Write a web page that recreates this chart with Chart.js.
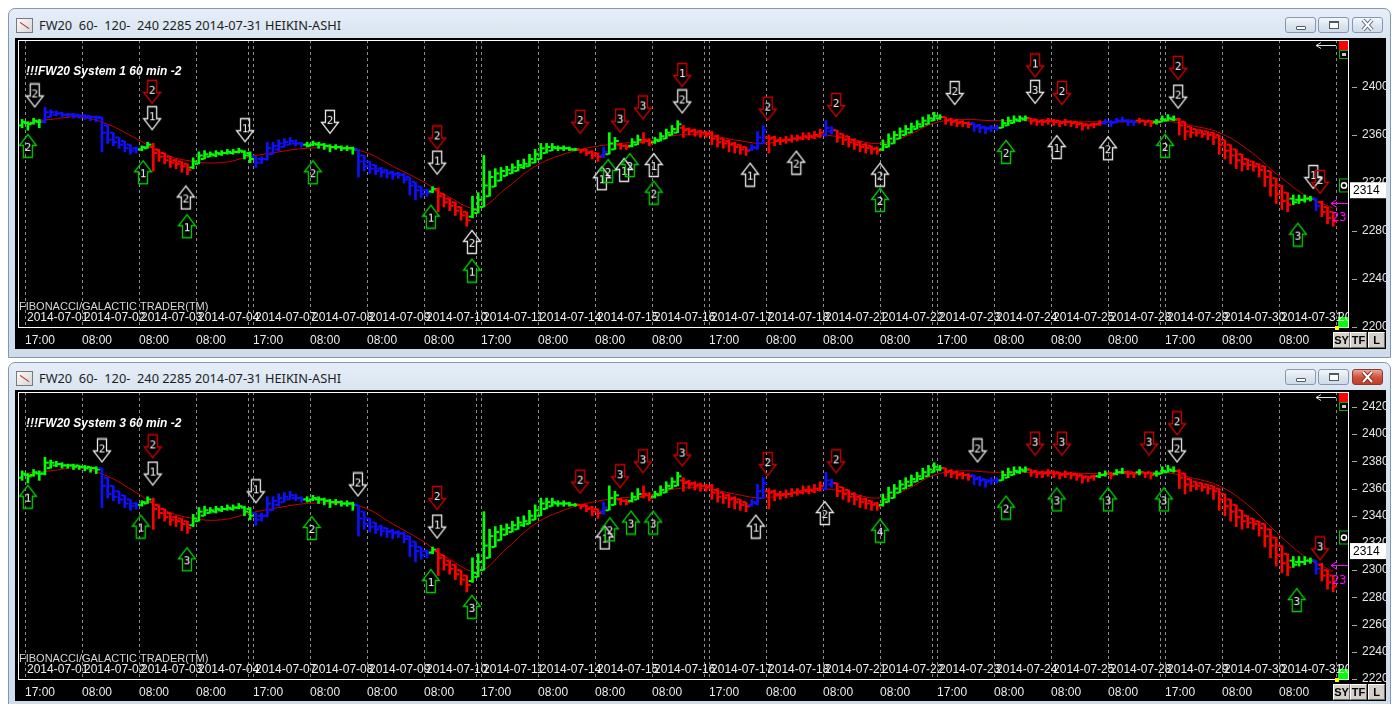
<!DOCTYPE html>
<html><head><meta charset="utf-8"><title>FW20 Heikin-Ashi</title>
<script src="https://cdn.jsdelivr.net/npm/chart.js@4.4.1/dist/chart.umd.min.js"></script>
<style>
*{box-sizing:border-box}
html,body{margin:0;padding:0;width:1398px;height:704px;overflow:hidden;background:#ffffff}
.win{position:absolute;left:8px;width:1383px;border:1px solid #8497b0;border-radius:7px 7px 0 0;background:linear-gradient(#e6eef8 0px,#d8e4f1 30px,#cfdcec 100%)}
.ttl{position:absolute;left:39px;font:12.8px "Noto Sans",sans-serif;white-space:pre;color:#1e1e1e;line-height:16px}
.ico{position:absolute;left:16px;width:17px;height:15px;border:1px solid #7a7a7a;background:linear-gradient(135deg,#fbfbfb,#d5d5d5)}
.ico:after{content:"";position:absolute;left:2px;top:6px;width:11px;height:1px;background:#d02020;transform:rotate(35deg)}
.blk{position:absolute;left:15px;width:1371px;height:311px;background:#000}
.wb{position:absolute;width:31px;height:16px;border:1px solid #8797ad;border-radius:3px;background:linear-gradient(#f4f7fb,#dde6f0 50%,#cfdbe9)}
.wb.red{background:linear-gradient(#eaa796,#d0533c 50%,#c13d28);border-color:#8a3a2e}
.mn{position:absolute;left:10px;top:8px;width:10px;height:4px;border:1px solid #4d5a6a;background:#fff;border-radius:1px}
.mx{position:absolute;left:10px;top:3px;width:10px;height:8px;border:1px solid #4d5a6a;border-top-width:2px;background:#fff}
.sb{position:absolute;height:16px;width:17px;background:#d4d0c8;border:1px solid;border-color:#fff #6f6f6f #6f6f6f #fff;font:bold 11px "Liberation Sans",Arial,sans-serif;color:#000;text-align:center;line-height:14px}
canvas{position:absolute;left:0;top:0}
</style></head>
<body>
<div class="win" style="top:8px;height:350px"></div>
<div class="ico" style="top:18px"></div>
<div class="ttl" style="top:17px">FW20  60-  120-  240 2285 2014-07-31 HEIKIN-ASHI</div>
<div class="wb" style="left:1285px;top:17px"><div class="mn"></div></div>
<div class="wb" style="left:1318px;top:17px"><div class="mx"></div></div>
<div class="wb" style="left:1352px;top:17px"><svg width="29" height="14" style="position:absolute;left:0;top:0"><path d="M10 2 L19 12 M19 2 L10 12" stroke="#56657a" stroke-width="4"/><path d="M10 2 L19 12 M19 2 L10 12" stroke="#fff" stroke-width="2"/></svg></div>
<div class="blk" style="top:38px"><canvas id="c1" width="1371" height="311"></canvas></div>
<div class="sb" style="left:1333px;top:332px">SY</div><div class="sb" style="left:1350px;top:332px">TF</div><div class="sb" style="left:1368px;top:332px">L</div>

<div class="win" style="top:362px;height:350px"></div>
<div class="ico" style="top:371px"></div>
<div class="ttl" style="top:370px">FW20  60-  120-  240 2285 2014-07-31 HEIKIN-ASHI</div>
<div class="wb" style="left:1285px;top:369px"><div class="mn"></div></div>
<div class="wb" style="left:1318px;top:369px"><div class="mx"></div></div>
<div class="wb red" style="left:1352px;top:369px"><svg width="29" height="14" style="position:absolute;left:0;top:0"><path d="M10 2 L19 12 M19 2 L10 12" stroke="#7a2a1e" stroke-width="4"/><path d="M10 2 L19 12 M19 2 L10 12" stroke="#fff" stroke-width="2"/></svg></div>
<div class="blk" style="top:390px"><canvas id="c2" width="1371" height="311"></canvas></div>
<div class="sb" style="left:1333px;top:684px">SY</div><div class="sb" style="left:1350px;top:684px">TF</div><div class="sb" style="left:1368px;top:684px">L</div>

<script>
// ---------- price data (Heikin-Ashi, 60 min bars) ----------
const opens = [2368,2370,2370,2371,2371,2375,2377,2378,2377,2377,
2377,2376,2376,2375,2375,2368,2362,2358,2355,2352,
2349,2348,2349,2350,2348,2345,2342,2339,2338,2336,
2333,2336,2340,2342,2343,2344,2345,2345,2346,2346,
2345,2342,2340,2340,2344,2348,2350,2352,2353,2353,
2352,2352,2352,2352,2351,2350,2350,2349,2349,2348,
2343,2338,2335,2332,2331,2329,2328,2327,2325,2321,
2317,2314,2313,2314,2311,2307,2304,2300,2296,2292,
2295,2300,2309,2317,2322,2326,2328,2330,2333,2334,
2337,2340,2345,2347,2349,2349,2349,2348,2348,2348,
2346,2345,2343,2344,2348,2352,2351,2351,2352,2354,
2355,2354,2355,2357,2360,2362,2366,2365,2364,2363,
2362,2362,2359,2357,2355,2353,2352,2350,2348,2349,
2353,2358,2358,2356,2356,2356,2357,2357,2358,2358,
2359,2360,2363,2364,2361,2359,2356,2354,2352,2351,
2349,2348,2350,2353,2357,2360,2362,2365,2367,2369,
2372,2374,2375,2373,2372,2371,2370,2370,2368,2367,
2366,2366,2366,2368,2370,2372,2373,2374,2373,2372,
2372,2372,2372,2371,2371,2371,2370,2369,2369,2369,
2370,2371,2371,2372,2372,2372,2372,2372,2372,2371,
2371,2372,2373,2373,2371,2367,2365,2364,2363,2362,
2360,2356,2352,2348,2344,2340,2338,2336,2334,2330,
2324,2318,2312,2307,2306,2306,2307,2307,2304,2300,2296];
const highs = [2373,2371,2374,2373,2383,2381,2380,2379,2378,2378,
2377,2377,2376,2376,2375,2368,2362,2358,2355,2352,
2350,2351,2354,2353,2348,2345,2342,2340,2338,2336,
2341,2346,2347,2346,2347,2347,2348,2348,2349,2347,
2346,2342,2342,2354,2354,2356,2357,2358,2356,2354,
2354,2355,2354,2353,2352,2352,2351,2351,2350,2348,
2343,2338,2335,2333,2331,2330,2329,2328,2325,2321,
2317,2315,2317,2316,2311,2307,2304,2300,2296,2309,
2312,2343,2330,2332,2333,2334,2336,2339,2340,2344,
2348,2353,2353,2353,2351,2351,2350,2349,2348,2348,
2347,2345,2350,2362,2358,2353,2352,2357,2360,2362,
2357,2358,2362,2365,2368,2372,2368,2366,2365,2364,
2363,2363,2360,2357,2356,2354,2352,2350,2352,2363,
2368,2360,2359,2358,2359,2360,2360,2362,2362,2363,
2365,2372,2367,2364,2361,2359,2357,2355,2353,2351,
2350,2356,2361,2363,2366,2368,2370,2372,2375,2377,
2379,2377,2375,2374,2373,2372,2371,2370,2369,2367,
2368,2368,2373,2375,2376,2376,2376,2374,2373,2373,
2374,2373,2372,2373,2372,2371,2370,2369,2370,2372,
2373,2372,2374,2375,2373,2372,2374,2372,2372,2373,
2376,2377,2376,2374,2371,2367,2365,2364,2363,2362,
2360,2356,2352,2348,2344,2340,2338,2336,2334,2330,
2324,2318,2312,2310,2310,2310,2309,2307,2305,2300,2296];
const lows = [2366,2364,2369,2366,2370,2375,2376,2375,2375,2374,
2374,2373,2372,2371,2346,2353,2351,2349,2346,2344,
2345,2347,2349,2330,2338,2336,2333,2332,2329,2327,
2332,2336,2340,2342,2342,2343,2344,2344,2345,2340,
2337,2333,2336,2339,2344,2347,2350,2352,2351,2350,
2350,2351,2349,2348,2346,2348,2347,2347,2344,2325,
2330,2328,2327,2325,2324,2323,2324,2320,2310,2306,
2308,2309,2312,2296,2300,2297,2293,2289,2284,2291,
2295,2300,2309,2317,2322,2326,2328,2330,2332,2334,
2337,2340,2345,2347,2347,2347,2347,2347,2345,2343,
2340,2338,2341,2344,2348,2348,2348,2350,2352,2353,
2351,2353,2355,2357,2360,2362,2358,2360,2359,2358,
2358,2352,2350,2349,2346,2345,2344,2343,2347,2348,
2353,2345,2351,2352,2353,2354,2355,2356,2356,2357,
2358,2359,2361,2354,2352,2350,2348,2346,2345,2344,
2344,2347,2350,2353,2357,2360,2362,2365,2367,2369,
2372,2373,2369,2368,2367,2367,2366,2363,2362,2361,
2363,2364,2366,2368,2370,2371,2372,2369,2368,2368,
2369,2368,2367,2368,2367,2366,2364,2365,2366,2368,
2369,2367,2370,2371,2368,2368,2370,2368,2367,2369,
2371,2372,2372,2360,2356,2358,2359,2358,2356,2352,
2344,2340,2336,2332,2330,2331,2330,2325,2317,2309,
2303,2298,2296,2302,2303,2304,2305,2297,2292,2286,2284];
const closes = [2371,2369,2372,2371,2379,2379,2378,2377,2377,2376,
2376,2375,2375,2374,2362,2356,2354,2352,2349,2347,
2348,2350,2352,2345,2342,2339,2337,2336,2334,2331,
2338,2343,2344,2344,2345,2345,2346,2346,2347,2343,
2340,2337,2340,2349,2351,2353,2354,2355,2353,2352,
2351,2353,2352,2351,2350,2350,2349,2349,2348,2338,
2334,2332,2330,2329,2328,2327,2327,2323,2318,2314,
2311,2312,2315,2309,2304,2301,2297,2293,2289,2298,
2306,2318,2325,2328,2330,2331,2333,2335,2336,2340,
2344,2349,2350,2350,2349,2349,2348,2348,2347,2345,
2343,2342,2346,2353,2355,2351,2350,2354,2356,2356,
2353,2356,2359,2362,2365,2369,2364,2363,2362,2362,
2361,2357,2354,2353,2352,2350,2348,2347,2350,2358,
2364,2357,2355,2355,2356,2357,2358,2359,2359,2360,
2362,2366,2364,2358,2356,2354,2352,2350,2349,2348,
2347,2352,2357,2360,2363,2365,2367,2369,2372,2374,
2376,2375,2372,2371,2370,2370,2369,2367,2366,2365,
2366,2366,2370,2372,2373,2374,2374,2372,2371,2371,
2372,2371,2370,2371,2370,2369,2368,2368,2369,2370,
2371,2370,2372,2372,2371,2371,2372,2371,2370,2371,
2373,2374,2373,2368,2363,2362,2362,2361,2360,2358,
2352,2347,2343,2339,2336,2335,2334,2331,2325,2318,
2311,2305,2302,2304,2306,2307,2307,2301,2296,2291,2288];
// bar colour state per bar: g = green, b = blue, r = red
const colorsBottom = ["gggggggggggggg","bbbbbbb","gg","rrrrrrr","ggggggggggg","bbbbbbbbb","ggggggggg",
 "bbbbbbbbbbbbb","g","rrrrrr","ggggggggggggggggggg","rrrr","b","gg","rr","gg","rr","ggggg",
 "rrrrrrrrrrrr","bbb","rrrrrrrrrr","bb","rrrrrrrr","ggggggggggg","rrrrr","bbbbb","ggggg",
 "rrrrrrrrrrrr","gg","r","gg","rr","g","rr","gggg","rrrrrrrrrrrrrrrrrrrr","gggg","b","rrr"].join("");
const colorsTop = ["gggg","bbbbbbbbbb","bbbbbbb","gg","rrrrrrr","ggggggggggg","bbbbbbbbb","ggggggggg",
 "bbbbbbbbbbbbb","g","rrrrrr","ggggggggggggggggggg","rrrr","b","gg","rr","gg","rr","ggggg",
 "rrrrrrrrrrrr","bbb","rrrrrrrrrr","bb","rrrrrrrr","ggggggggggg","rrrrr","bbbbb","ggggg",
 "rrrrrrrrrrrr","r","bbbbbb","r","rr","gggg","rrrrrrrrrrrrrrrrrrrr","gggg","b","rrr"].join("");
// moving average, sampled every 5 bars
const maStep = 5;
const maVals = [2371,2373,2375,2369,2357,2344,2338,2337,2342,2346,2349,2349,2346,2334,2322,2308,2299,2316,
 2334,2344,2350,2353,2355,2360,2360,2356,2353,2357,2360,2357,2353,2359,2370,2373,2372,2372,2371,2371,
 2371,2371,2372,2368,2362,2348,2328,2310,2299];
// ---------- axis data ----------
const dayGrid = [0.5,10.5,20.5,30.5,40.5,50.5,60.5,70.5,80.5,90.5,100.5,110.5,120.5,130.5,140.5,150.5,
 160.5,170.5,180.5,190.5,200.5,210.5,220.5,230.5];
const weekendGrid = [39.62,79.62,119.62,159.62,199.62];
const timeLabels = ["17:00","08:00","08:00","08:00","17:00","08:00","08:00","08:00","17:00","08:00","08:00","08:00",
 "17:00","08:00","08:00","08:00","17:00","08:00","08:00","08:00","17:00","08:00","08:00",""];
const dateLabels = ["2014-07-01","2014-07-02","2014-07-03","2014-07-04","2014-07-07","2014-07-08","2014-07-09",
 "2014-07-10","2014-07-11","2014-07-14","2014-07-15","2014-07-16","2014-07-17","2014-07-18","2014-07-21",
 "2014-07-22","2014-07-23","2014-07-24","2014-07-25","2014-07-28","2014-07-29","2014-07-30","2014-07-31","2014-08-01"];
const yTicksTop = [2200,2240,2280,2320,2360,2400];
const yTicksBottom = [2220,2240,2260,2280,2300,2320,2340,2360,2380,2400,2420];
// ---------- signal arrows ----------
const arrTopIdx = [2.2,1.0,22.8,22.8,21.2,28.7,28.9,39.1,54.0,51.0,72.8,72.8,71.7,78.9,78.9,97.9,104.9,108.9,115.8,
 115.8,101.7,102.8,105.6,106.6,110.8,110.8,130.8,127.7,135.8,142.8,150.5,150.5,163.6,172.6,177.7,177.7,182.4,181.5,
 190.5,202.8,202.8,200.5,223.8,226.5,227.7];
const arrTopPrice = [2393,2351,2396,2374,2329,2308,2284,2364,2371,2329,2358,2337,2292,2271,2247,2371,2372,2383,2410,
 2388,2324,2330,2331,2335,2335,2312,2382,2327,2337,2385,2327,2306,2395,2346,2418,2396,2395,2350,2349,2416,2392,2351,
 2277,2325,2321];
const arrTopKind = ["WD","GU","RD","WD","GU","WU","GU","WD","WD","GU","RD","WD","GU","WU","GU","RD","RD","RD","RD",
 "WD","WU","GU","WU","GU","WU","GU","RD","WU","WU","RD","WU","GU","WD","GU","RD","WD","RD","WU","WU","RD","WD","GU",
 "GU","WD","RD"];
const arrTopText = ["2","2","2","1","1","2","1","1","2","2","2","1","1","2","1","2","3","3","1","2","1","2","1","2",
 "1","2","2","1","2","2","2","2","2","2","1","3","2","1","2","2","2","2","3","1","2"];
const arrBotIdx = [1.0,14.0,22.9,22.9,20.8,28.9,41.0,50.8,58.9,72.8,72.8,71.7,78.9,97.9,104.9,108.9,115.8,102.2,103.1,
 106.8,110.7,130.8,128.7,142.8,140.8,150.5,167.6,172.6,177.7,182.4,181.5,190.5,197.7,202.6,202.6,200.3,223.6,227.7];
const arrBotPrice = [2354,2388,2391,2371,2332,2308,2358,2331,2363,2353,2332,2292,2273,2365,2369,2380,2385,2324,2330,
 2335,2335,2378,2332,2380,2342,2329,2388,2346,2393,2393,2352,2352,2393,2408,2388,2352,2278,2316];
const arrBotKind = ["GU","WD","RD","WD","GU","GU","WD","GU","WD","RD","WD","GU","GU","RD","RD","RD","RD","WU","GU",
 "GU","GU","RD","WU","RD","WU","GU","WD","GU","RD","RD","GU","GU","RD","RD","WD","GU","GU","RD"];
const arrBotText = ["1","2","2","1","1","3","1","2","2","2","1","1","3","2","3","3","3","1","2","3","3","2","1","2",
 "2","4","2","2","3","3","3","3","3","2","2","3","3","3"];

const COL = {g:"#00ff00", b:"#1010ff", r:"#ff0000"};
const ARROW_COL = {W:"#e8e8e8", R:"#d00000", G:"#00d000"};

function arrowImg(kind, txt){
  const c = document.createElement("canvas"); c.width = 20; c.height = 26;
  const g = c.getContext("2d");
  g.strokeStyle = ARROW_COL[kind[0]]; g.lineWidth = 1.3;
  g.beginPath();
  if (kind[1] === "D") {
    g.moveTo(5.5,1.5); g.lineTo(14.5,1.5); g.lineTo(14.5,13.5); g.lineTo(18.5,13.5);
    g.lineTo(10,24.5); g.lineTo(1.5,13.5); g.lineTo(5.5,13.5); g.closePath();
  } else {
    g.moveTo(10,1.5); g.lineTo(18.5,12.5); g.lineTo(14.5,12.5); g.lineTo(14.5,24.5);
    g.lineTo(5.5,24.5); g.lineTo(5.5,12.5); g.lineTo(1.5,12.5); g.closePath();
  }
  g.stroke();
  g.fillStyle = "#f2f2f2"; g.font = '11px "DejaVu Sans Mono"'; g.textAlign = "center"; g.textBaseline = "middle";
  g.fillText(txt, 10, kind[1] === "D" ? 12 : 15);
  return c;
}

const decor = {
  id: "decor",
  afterDraw(chart, args, o) {
    const {ctx, chartArea: a, scales: {x, y}} = chart;
    ctx.save();
    // y tick marks
    ctx.strokeStyle = "#a8a8a8"; ctx.lineWidth = 1;
    o.yTicks.forEach(v => { const py = Math.round(y.getPixelForValue(v)) + 0.5;
      ctx.beginPath(); ctx.moveTo(a.right + 3, py); ctx.lineTo(a.right + 8, py); ctx.stroke(); });
    // inside plot
    ctx.save(); ctx.beginPath(); ctx.rect(a.left, a.top, a.right - a.left, a.bottom - a.top); ctx.clip();
    ctx.fillStyle = "#00ff00"; ctx.fillRect(a.right - 11, a.bottom - 11, 11, 11);
    ctx.fillStyle = "#eeeeee"; ctx.font = '12px "Liberation Sans"'; ctx.textAlign = "left"; ctx.textBaseline = "alphabetic";
    dayGrid.forEach((g, k) => ctx.fillText(dateLabels[k], x.getPixelForValue(g) + 2, a.bottom - 7));
    ctx.font = '11px "Liberation Sans"'; ctx.fillStyle = "#d6d6d6";
    ctx.fillText("FIBONACCI/GALACTIC TRADER(TM)", a.left + 1, a.bottom - 18);
    ctx.font = 'italic bold 12px "Liberation Sans"'; ctx.fillStyle = "#ffffff";
    ctx.fillText(o.sys, a.left + 8, a.top + 35);
    // top-right markers
    ctx.fillStyle = "#ff0000"; ctx.fillRect(a.right - 10, a.top, 10, 10);
    ctx.strokeStyle = "#00b000"; ctx.strokeRect(a.right - 9.5, a.top + 10.5, 9, 8);
    ctx.fillStyle = "#c8c8c8"; ctx.fillRect(a.right - 7, a.top + 13, 4, 3);
    ctx.strokeStyle = "#e0e0e0"; ctx.beginPath();
    ctx.moveTo(a.right - 33, a.top + 5.5); ctx.lineTo(a.right - 13, a.top + 5.5);
    ctx.moveTo(a.right - 33, a.top + 5.5); ctx.lineTo(a.right - 28, a.top + 2.5);
    ctx.moveTo(a.right - 33, a.top + 5.5); ctx.lineTo(a.right - 28, a.top + 8.5); ctx.stroke();
    // ring box
    const ry = y.getPixelForValue(o.ring);
    ctx.fillStyle = "#000"; ctx.fillRect(a.right - 10, ry - 7, 10, 14);
    ctx.strokeStyle = "#00c000"; ctx.strokeRect(a.right - 9.5, ry - 6.5, 9, 13);
    ctx.strokeStyle = "#ffffff"; ctx.lineWidth = 1.5; ctx.beginPath(); ctx.arc(a.right - 5, ry, 2.6, 0, Math.PI * 2); ctx.stroke();
    // magenta arrow + text
    const my = Math.round(y.getPixelForValue(o.mag)) + 0.5;
    ctx.strokeStyle = "#ff00ff"; ctx.lineWidth = 1; ctx.beginPath();
    ctx.moveTo(a.right - 18, my); ctx.lineTo(a.right, my);
    ctx.moveTo(a.right - 18, my); ctx.lineTo(a.right - 12, my - 4);
    ctx.moveTo(a.right - 18, my); ctx.lineTo(a.right - 12, my + 4); ctx.stroke();
    ctx.fillStyle = "#ff00ff"; ctx.font = '12px "DejaVu Sans Mono"'; ctx.textBaseline = "middle";
    ctx.fillText(o.magText, a.right - 17, y.getPixelForValue(o.magPos));
    ctx.restore();
    // white plot frame
    ctx.strokeStyle = "#ffffff"; ctx.lineWidth = 1;
    ctx.strokeRect(a.left + 0.5, a.top + 0.5, a.right - a.left - 1, a.bottom - a.top - 1);
    ctx.fillStyle = "#ffff00"; ctx.fillRect(a.right - 14, a.bottom - 2, 4, 4);
    // last price box
    const py = y.getPixelForValue(o.last);
    ctx.fillStyle = "#ffffff"; ctx.fillRect(a.right + 1, py - 8, chart.width - a.right - 1, 16);
    ctx.fillStyle = "#000"; ctx.font = '12px "Liberation Sans"'; ctx.textBaseline = "middle"; ctx.textAlign = "left";
    ctx.fillText(String(o.last), a.right + 4, py + 0.5);
    ctx.restore();
  }
};

Chart.defaults.font.family = '"Liberation Sans", Arial, sans-serif';

function build(id, yMin, yMax, yTicks, colors, aIdx, aPrice, aKind, aText, sys, marks) {
  const barCols = colors.split("").map(c => COL[c]);
  const allTicks = dayGrid.concat(weekendGrid).sort((p, q) => p - q);
  return new Chart(document.getElementById(id), {
    type: "bar",
    data: { datasets: [
      { type: "line", data: aIdx.map((v, k) => ({x: v, y: aPrice[k]})), showLine: false,
        pointStyle: aKind.map((kd, k) => arrowImg(kd, aText[k])), pointRadius: 10, order: 0 },
      { type: "line", data: opens.map((v, i) => ({x: i - 0.4, y: v})), showLine: false, pointStyle: "line",
        pointRadius: 1.6, pointBorderWidth: 2, pointBorderColor: barCols, order: 1 },
      { type: "line", data: closes.map((v, i) => ({x: i + 0.4, y: v})), showLine: false, pointStyle: "line",
        pointRadius: 1.6, pointBorderWidth: 2, pointBorderColor: barCols, order: 1 },
      { type: "bar", data: lows.map((v, i) => ({x: i, y: [v, highs[i]]})), backgroundColor: barCols,
        barThickness: 2, borderWidth: 0, order: 2 },
      { type: "line", data: maVals.map((v, k) => ({x: k * maStep, y: v})), borderColor: "#c80000", borderWidth: 1,
        pointRadius: 0, tension: 0.4, fill: false, order: 3 }
    ]},
    options: {
      responsive: false, devicePixelRatio: 1, animation: false, events: [],
      layout: { autoPadding: false, padding: {left: 3, top: 2, right: 0, bottom: 0} },
      plugins: { legend: {display: false}, tooltip: {enabled: false},
        decor: Object.assign({yTicks, sys}, marks) },
      scales: {
        x: { type: "linear", min: -0.73, max: 232.77, offset: false, position: "bottom",
          afterBuildTicks: s => { s.ticks = allTicks.map(v => ({value: v})); },
          afterFit: s => { s.height = 21; s.paddingLeft = 0; s.paddingRight = 0; },
          grid: { color: "#8c8c8c", lineWidth: 1, drawTicks: false, offset: false },
          border: { display: false, dash: [3, 3] },
          ticks: { autoSkip: false, maxRotation: 0, minRotation: 0, align: "start", padding: 5, color: "#ececec",
            font: {size: 12}, callback: v => { const k = dayGrid.indexOf(v); return k >= 0 ? timeLabels[k] : ""; } } },
        y: { type: "linear", position: "right", min: yMin, max: yMax,
          afterBuildTicks: s => { s.ticks = yTicks.map(v => ({value: v})); },
          afterFit: s => { s.width = 37; s.paddingTop = 0; s.paddingBottom = 0; },
          grid: { drawOnChartArea: false, drawTicks: false }, border: { display: false },
          ticks: { color: "#e6e6e6", padding: 13, font: {size: 12}, callback: v => String(v) } }
      }
    },
    plugins: [decor]
  });
}

build("c1", 2199.2, 2439.2, yTicksTop, colorsTop, arrTopIdx, arrTopPrice, arrTopKind, arrTopText,
  "!!!FW20 System 1 60 min -2", {last: 2314, ring: 2318, mag: 2303, magText: "23", magPos: 2291});
build("c2", 2219.2, 2431.0, yTicksBottom, colorsBottom, arrBotIdx, arrBotPrice, arrBotKind, arrBotText,
  "!!!FW20 System 3 60 min -2", {last: 2314, ring: 2324, mag: 2304, magText: "23", magPos: 2292});
</script>
</body></html>
